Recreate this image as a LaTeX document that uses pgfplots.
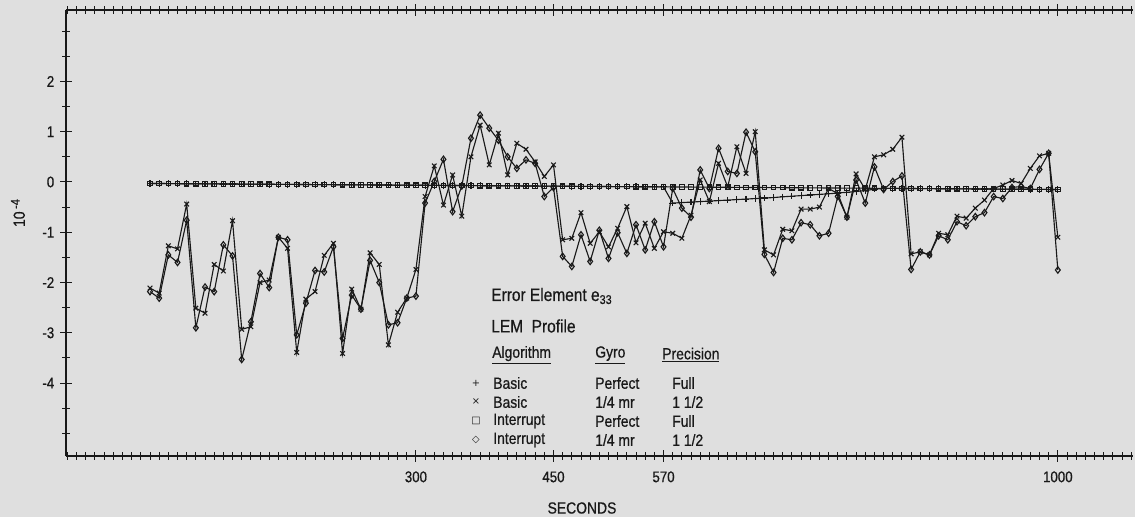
\documentclass[border=0pt]{standalone}
\usepackage{fontspec}
\setmainfont{Liberation Sans}[FakeStretch=0.86, FakeBold=0.6]
\newfontfamily\sym{DejaVu Sans}
\usepackage{pgfplots}
\usepackage{pgfplotstable}
\pgfplotsset{compat=1.18}
\definecolor{bg}{RGB}{223,223,223}
\definecolor{ink}{RGB}{25,25,25}
\pgfplotstableread{
t A B C D
10 -0.030 -2.11 -0.030 -2.18
20 -0.031 -2.21 -0.031 -2.31
30 -0.032 -1.27 -0.032 -1.45
40 -0.034 -1.33 -0.034 -1.60
50 -0.035 -0.44 -0.035 -0.76
60 -0.036 -2.51 -0.036 -2.90
70 -0.037 -2.61 -0.037 -2.09
80 -0.038 -1.64 -0.038 -2.18
90 -0.040 -1.77 -0.040 -1.25
100 -0.041 -0.77 -0.041 -1.47
110 -0.042 -2.93 -0.042 -3.53
120 -0.043 -2.88 -0.043 -2.78
130 -0.045 -2.00 -0.045 -1.82
140 -0.046 -1.95 -0.046 -2.10
150 -0.047 -1.10 -0.047 -1.10
160 -0.048 -1.32 -0.048 -1.15
170 -0.049 -3.39 -0.049 -3.04
180 -0.051 -2.33 -0.051 -2.41
190 -0.052 -2.18 -0.052 -1.76
200 -0.053 -1.46 -0.053 -1.79
210 -0.054 -1.22 -0.054 -1.29
220 -0.055 -3.41 -0.055 -3.11
230 -0.057 -2.13 -0.057 -2.25
240 -0.058 -2.53 -0.058 -2.53
250 -0.059 -1.41 -0.059 -1.56
260 -0.060 -1.64 -0.060 -2.00
270 -0.061 -3.24 -0.061 -2.84
280 -0.063 -2.59 -0.063 -2.80
290 -0.064 -2.31 -0.064 -2.31
300 -0.065 -1.74 -0.065 -2.27
310 -0.066 -0.29 -0.066 -0.42
320 -0.068 0.32 -0.068 0.01
330 -0.069 -0.46 -0.069 0.45
340 -0.070 0.14 -0.070 -0.59
350 -0.071 -0.68 -0.071 -0.08
360 -0.072 0.50 -0.072 0.87
370 -0.074 1.13 -0.074 1.33
380 -0.075 0.34 -0.075 1.07
390 -0.076 0.97 -0.076 0.83
400 -0.077 0.14 -0.077 0.50
410 -0.078 0.77 -0.078 0.27
420 -0.080 0.65 -0.080 0.44
430 -0.081 0.40 -0.081 0.37
440 -0.082 0.11 -0.082 -0.29
450 -0.083 0.34 -0.083 -0.11
460 -0.084 -1.15 -0.084 -1.48
470 -0.086 -1.12 -0.086 -1.68
480 -0.087 -0.61 -0.087 -1.05
490 -0.088 -1.22 -0.088 -1.58
500 -0.089 -0.99 -0.089 -0.96
510 -0.091 -1.29 -0.091 -1.52
520 -0.092 -0.92 -0.092 -1.01
530 -0.093 -0.49 -0.093 -1.42
540 -0.094 -1.21 -0.094 -0.85
550 -0.095 -0.82 -0.095 -1.35
560 -0.097 -1.32 -0.097 -0.79
570 -0.098 -0.99 -0.098 -1.29
580 -0.420 -1.02 -0.099 -0.13
590 -0.410 -1.12 -0.100 -0.52
600 -0.400 -0.66 -0.101 -0.70
610 -0.390 0.04 -0.103 0.24
620 -0.380 -0.39 -0.104 -0.13
630 -0.370 0.37 -0.105 0.67
640 -0.360 -0.10 -0.106 0.21
650 -0.350 0.70 -0.107 0.17
660 -0.340 0.17 -0.109 0.99
670 -0.330 1.00 -0.110 0.60
680 -0.320 -1.35 -0.111 -1.44
690 -0.310 -1.45 -0.112 -1.80
700 -0.295 -0.94 -0.113 -1.12
710 -0.283 -0.97 -0.115 -1.15
720 -0.271 -0.54 -0.116 -0.81
730 -0.259 -0.54 -0.117 -0.85
740 -0.247 -0.50 -0.118 -1.07
750 -0.235 -0.13 -0.120 -1.02
760 -0.220 -0.23 -0.121 -0.29
770 -0.205 -0.70 -0.122 -0.70
780 -0.190 0.16 -0.123 0.04
790 -0.170 -0.15 -0.124 -0.42
800 -0.145 0.50 -0.126 0.30
810 -0.127 0.54 -0.127 -0.15
820 -0.128 0.65 -0.128 0.01
830 -0.129 0.89 -0.129 0.12
840 -0.130 -1.43 -0.130 -1.74
850 -0.132 -1.39 -0.132 -1.39
860 -0.133 -1.45 -0.133 -1.45
870 -0.134 -1.02 -0.134 -1.07
880 -0.135 -1.05 -0.135 -1.15
890 -0.136 -0.68 -0.136 -0.79
900 -0.138 -0.72 -0.138 -0.87
910 -0.139 -0.52 -0.139 -0.69
920 -0.140 -0.36 -0.140 -0.61
930 -0.141 -0.13 -0.141 -0.29
940 -0.143 -0.06 -0.143 -0.33
950 -0.144 0.03 -0.144 -0.11
960 -0.145 -0.03 -0.145 -0.09
970 -0.146 0.27 -0.146 -0.13
980 -0.147 0.52 -0.147 0.25
990 -0.149 0.57 -0.149 0.57
1000 -0.150 -1.10 -0.150 -1.75
}\datatable
\begin{document}
\begin{tikzpicture}
\begin{scope}[x=0.25mm,y=-0.25mm]
\fill[bg] (0,0) rectangle (1135,517);
\end{scope}
\begin{axis}[
  at={(16.5mm,-114mm)}, anchor=south west,
  scale only axis, width=266.75mm, height=111.5mm,
  xmin=-81.6, xmax=1082, ymin=-5.45, ymax=3.42,
  axis x line*=box, axis y line*=left,
  axis line style={ink, line width=1pt},
  xtick={300,450,570,1000}, xticklabels={300,450,570,1000},
  minor xtick={-80,-70,...,1080},
  ytick={-4,-3,...,2}, yticklabels={-4,-3,-2,-1,0,1,2},
  minor ytick={-5,-4.5,-3.5,-2.5,-1.5,-0.5,0.5,1.5,2.5,3},
  tick align=center,
  major tick length=2.8mm, minor tick length=1.8mm,
  every tick/.style={ink, line width=0.7pt},
  ticklabel style={font=\fontsize{11}{13}\selectfont, text=ink},
  xticklabel style={yshift=-1.2mm},
  yticklabel style={xshift=-0.3mm},
  clip=false,
]
\addplot[ink, line width=0.8pt, mark=square, mark size=1.6pt, mark options={solid, line width=0.8pt}] table[x=t, y=C]{\datatable};
\addplot[ink, line width=0.8pt, mark=+, mark size=2.3pt, mark options={solid, line width=0.8pt}] table[x=t, y=A]{\datatable};
\addplot[ink, line width=0.8pt, mark=x, mark size=2.3pt, mark options={solid, line width=0.8pt}] table[x=t, y=B]{\datatable};
\addplot[ink, line width=0.8pt, mark=diamond, mark size=2.3pt, mark options={solid, line width=0.8pt}] table[x=t, y=D]{\datatable};
\end{axis}
\begin{scope}[x=0.25mm,y=-0.25mm, every node/.style={text=ink, font=\fontsize{11.5}{13}\selectfont, inner sep=0pt}]
\node[anchor=west, font=\fontsize{12.8}{15}\selectfont] at (491,296) {Error Element e\textsubscript{33}};
\node[anchor=west, font=\fontsize{12.8}{15}\selectfont] at (491,326) {LEM\ \ Profile};
\node[anchor=west] at (492,355) {\underline{Algorithm}};
\node[anchor=west] at (595,355) {\underline{Gyro}};
\node[anchor=west] at (662,355) {\underline{Precision}};
\node at (476,383) {\sym\fontsize{7}{8}\selectfont +};
\node at (476,402) {\sym\fontsize{7}{8}\selectfont ×};
\node at (476,421) {\sym\fontsize{7}{8}\selectfont □};
\node at (476,440) {\sym\fontsize{7}{8}\selectfont ◇};
\node[anchor=west] at (493,383) {Basic};
\node[anchor=west] at (493,402) {Basic};
\node[anchor=west] at (493,421) {Interrupt};
\node[anchor=west] at (493,440) {Interrupt};
\node[anchor=west] at (595,383) {Perfect};
\node[anchor=west] at (595,402) {1/4 mr};
\node[anchor=west] at (595,421) {Perfect};
\node[anchor=west] at (595,440) {1/4 mr};
\node[anchor=west] at (672,383) {Full};
\node[anchor=west] at (672,402) {1 1/2};
\node[anchor=west] at (672,421) {Full};
\node[anchor=west] at (672,440) {1 1/2};
\node at (582,508) {SECONDS};
\node[rotate=90] at (18,213) {10\,\raisebox{0.6ex}{\fontsize{9}{10}\selectfont -4}};
\end{scope}
\end{tikzpicture}
\end{document}
